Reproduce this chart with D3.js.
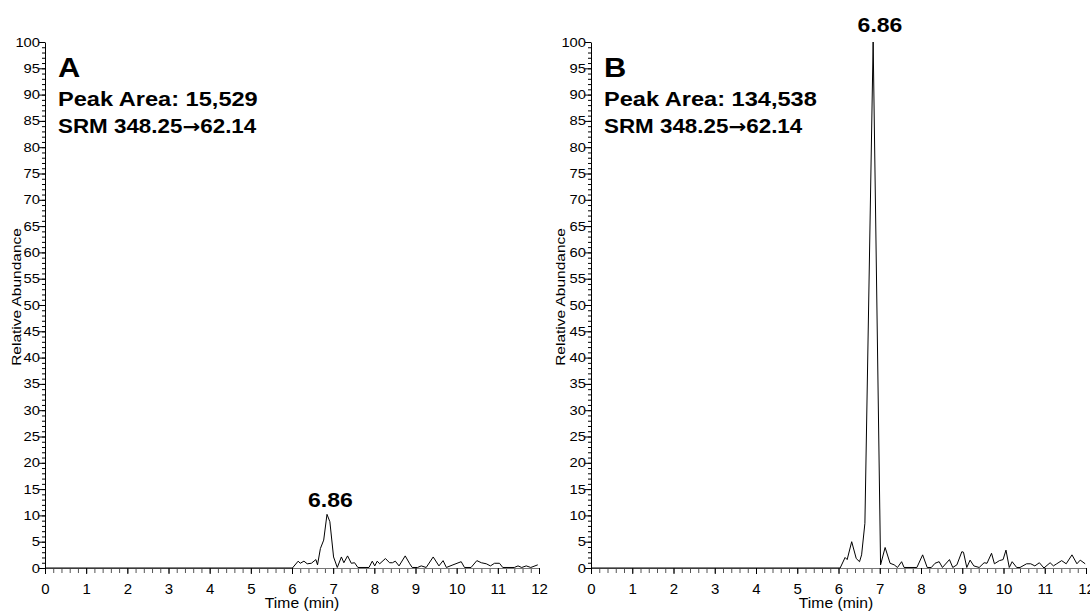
<!DOCTYPE html>
<html>
  <head>
    <title>SRM chromatograms</title>
    <script src="https://d3js.org/d3.v7.min.js"></script>
    <style>
      body { margin: 0; background: #fff; }
      text { font-family: "Liberation Sans", Arial, sans-serif; }
    </style>
  </head>
  <body>
    <svg width="1090" height="611"></svg>

    <script>
      // time (min) and relative abundance (%)
      const timeA = [0, 6.01, 6.15, 6.2, 6.29, 6.37, 6.47, 6.58, 6.62, 6.69, 6.77, 6.85, 6.92, 7.01, 7.1,
        7.2, 7.26, 7.35, 7.44, 7.52, 7.6, 7.87, 7.95, 8.01, 8.07, 8.13, 8.27, 8.37, 8.44, 8.51, 8.6,
        8.75, 8.86, 8.92, 9.05, 9.14, 9.26, 9.43, 9.57, 9.67, 9.75, 9.91, 10.11, 10.19, 10.35, 10.49,
        10.6, 10.72, 10.82, 10.92, 11.04, 11.12, 11.4, 11.49, 11.58, 11.69, 11.8, 11.97];
      const abundA = [0, 0, 1.3, 0.9, 1.3, 0.8, 0.9, 1.6, 0.6, 3.7, 5.3, 10.2, 8.8, 2.1, 0.1,
        2.1, 1.0, 2.3, 0.9, 1.0, 0.1, 0.1, 1.3, 0.4, 1.3, 0.8, 1.8, 1.0, 1.0, 1.3, 0.4,
        2.3, 0.8, 0.1, 0.1, 0.4, 0.1, 2.1, 0.4, 1.4, 0.1, 0.6, 1.2, 0.1, 0.1, 1.4,
        1.0, 0.8, 0.4, 0.9, 0.9, 0.1, 0.1, 0.4, 0.1, 0.4, 0.1, 0.6];

      const timeB = [0, 6.04, 6.16, 6.21, 6.32, 6.43, 6.51, 6.56, 6.64, 6.84, 7.02, 7.13, 7.25, 7.35,
        7.43, 7.53, 7.59, 7.9, 8.04, 8.15, 8.25, 8.34, 8.44, 8.52, 8.69, 8.77, 8.87, 8.99, 9.03,
        9.11, 9.19, 9.28, 9.41, 9.53, 9.6, 9.71, 9.78, 9.9, 9.99, 10.06, 10.14, 10.21, 10.32, 10.4,
        10.56, 10.66, 10.76, 10.87, 10.98, 11.13, 11.21, 11.29, 11.41, 11.52, 11.66, 11.78, 11.86, 11.98];
      const abundB = [0, 0, 2.0, 1.6, 5.0, 1.8, 1.2, 2.5, 8.5, 100, 0.6, 3.9, 0.9, 0.6,
        0.1, 1.2, 0.1, 0.1, 2.5, 0.1, 0.1, 0.9, 1.2, 0.1, 1.6, 0.1, 0.6, 3.1, 3.0,
        0.1, 1.5, 0.4, 0.1, 1.0, 0.9, 2.8, 0.8, 1.4, 1.6, 3.4, 0.1, 1.2, 0.1, 0.1,
        0.8, 0.8, 0.4, 1.0, 0, 1.0, 0.4, 0.8, 1.4, 0.8, 2.5, 0.8, 1.5, 0.8];

      const panels = [
        { letter: "A", area: "Peak Area: 15,529", time: timeA, abund: abundA, peak: 6.86, peakVal: 10.2,
          left: 45, right: 539, peakDx: 3, peakDy: 7, yTitleX: 21, xTitleX: 302 },
        { letter: "B", area: "Peak Area: 134,538", time: timeB, abund: abundB, peak: 6.86, peakVal: 100,
          left: 591, right: 1086, peakDx: 6, peakDy: 10, yTitleX: 565, xTitleX: 836 }
      ];
      const srmFrom = "SRM 348.25", srmTo = "62.14";

      const svg = d3.select("svg");
      const plotTop = 42, plotBottom = 568;
      const stretch = 1.18; // the source picture is a little wider than tall

      // text drawn at (x, y) and stretched sideways
      function label(parent, x, y, str, size, bold, sx, anchor) {
        return parent.append("text")
          .attr("transform", `translate(${x},${y}) scale(${sx},1)`)
          .attr("text-anchor", anchor || "start")
          .attr("font-size", size)
          .attr("font-weight", bold ? "bold" : "normal")
          .text(str);
      }

      panels.forEach(p => {
        const x = d3.scaleLinear().domain([0, 12]).range([p.left, p.right]);
        const y = d3.scaleLinear().domain([0, 100]).range([plotBottom, plotTop]);
        const g = svg.append("g");

        // y axis: minor ticks every 1, labelled ticks every 5
        g.append("g")
          .attr("transform", `translate(${p.left},0)`)
          .call(d3.axisLeft(y).tickValues(d3.range(0, 101, 1)).tickSize(3).tickFormat(""))
          .call(a => a.select(".domain").remove());
        g.append("g")
          .attr("transform", `translate(${p.left},0)`)
          .call(d3.axisLeft(y).tickValues(d3.range(0, 101, 5)).tickSize(6).tickSizeOuter(0))
          .call(a => a.selectAll("text")
            .attr("x", 0)
            .attr("transform", `translate(-5,0) scale(${stretch},1)`)
            .attr("font-size", 12.5));

        // x axis: minor ticks every 0.2 min
        g.append("g")
          .attr("transform", `translate(0,${plotBottom})`)
          .call(d3.axisBottom(x).tickValues(d3.range(0, 60.5, 1).map(d => d / 5)).tickSize(5).tickFormat(""))
          .call(a => a.select(".domain").remove())
          .call(a => a.selectAll("line").attr("stroke", "#555"));
        g.append("g")
          .attr("transform", `translate(0,${plotBottom})`)
          .call(d3.axisBottom(x).tickValues(d3.range(0, 13)).tickSize(6).tickSizeOuter(0).tickPadding(9).tickFormat(d3.format("d")))
          .call(a => a.select(".domain").attr("stroke", "#777"))
          .call(a => a.selectAll("text").attr("font-size", 15));

        g.selectAll(".tick text").attr("fill", "#000");

        // trace
        const pts = p.time.map((t, i) => [t, p.abund[i]]);
        g.append("path")
          .datum(pts)
          .attr("fill", "none")
          .attr("stroke", "#000")
          .attr("stroke-width", 1)
          .attr("d", d3.line().x(d => x(d[0])).y(d => y(d[1])));

        // axis titles
        g.append("text")
          .attr("transform", `translate(${p.yTitleX},297) rotate(-90) scale(1,0.8)`)
          .attr("text-anchor", "middle")
          .attr("font-size", 15.5)
          .text("Relative Abundance");
        label(g, p.xTitleX, 608, "Time (min)", 14, false, 1.12, "middle");

        // panel letter and annotation
        label(g, p.left + 13, 77, p.letter, 28, true, 1.1);
        label(g, p.left + 13, 106, p.area, 20, true, stretch);
        const srm = label(g, p.left + 13, 133, srmFrom, 20, true, 1.12);
        srm.append("tspan")
          .attr("font-family", "DejaVu Sans")
          .attr("font-size", 19)
          .text("\u2192");
        srm.append("tspan").text(srmTo);

        label(g, x(p.peak) + p.peakDx, y(p.peakVal) - p.peakDy, p.peak.toFixed(2), 19.5, true, stretch, "middle");
      });
    </script>
  </body>
</html>
